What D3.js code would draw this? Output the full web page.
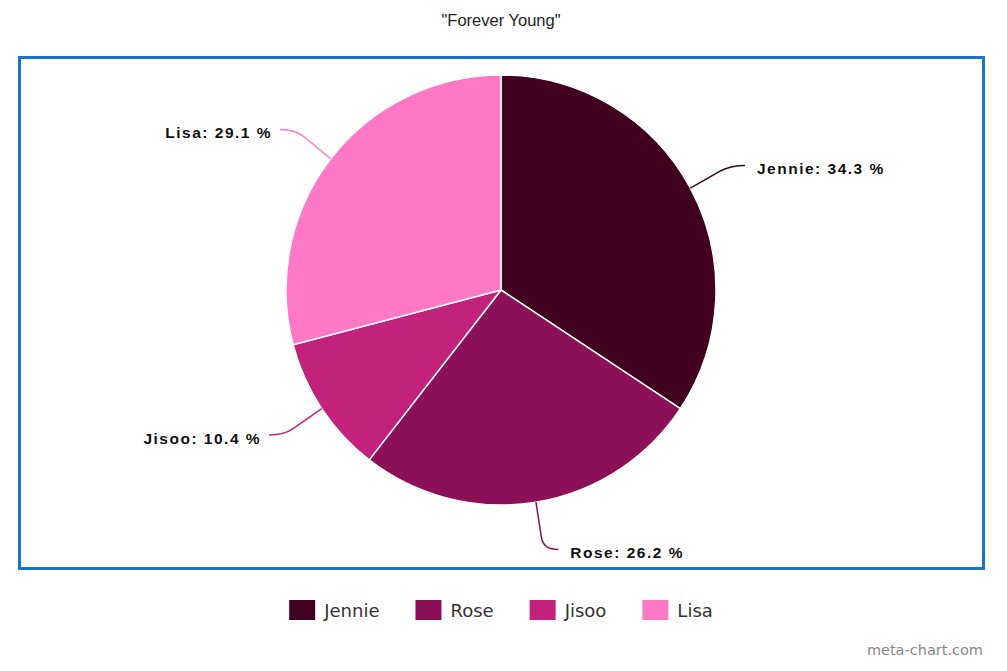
<!DOCTYPE html>
<html><head><meta charset="utf-8">
<script src="https://cdn.jsdelivr.net/npm/d3@7"></script>
<style>html,body{margin:0;padding:0;background:#fff;}svg{display:block;}</style>
</head><body>
<svg id="chart" width="1007" height="671"></svg>
<script>
const title = '"Forever Young"';
const categories = ["Jennie", "Rose", "Jisoo", "Lisa"];
const values = [34.3, 26.2, 10.4, 29.1];
const colors = ["#420020", "#8b1057", "#c2217c", "#ff78c6"];

const W = 1007, H = 671;
const cx = 501, cy = 290, r = 215;
const svg = d3.select("#chart");

svg.append("text").attr("x", 501).attr("y", 26).attr("text-anchor", "middle")
  .attr("font-family", "Liberation Sans, Arial, sans-serif").attr("font-size", 16.5)
  .attr("fill", "#222").text(title);

svg.append("rect").attr("x", 19.5).attr("y", 57.5).attr("width", 964).attr("height", 511)
  .attr("fill", "none").attr("stroke", "#1874c8").attr("stroke-width", 3);

const data = categories.map((c, i) => ({name: c, value: values[i], color: colors[i]}));
const pie = d3.pie().value(d => d.value).sort(null);
const arcs = pie(data);
const arc = d3.arc().innerRadius(0).outerRadius(r);
const g = svg.append("g").attr("transform", `translate(${cx},${cy})`);

g.selectAll("path.slice").data(arcs).enter().append("path")
  .attr("class", "slice").attr("d", arc)
  .attr("fill", d => d.data.color).attr("stroke", "#fff").attr("stroke-width", 1.5)
  .attr("stroke-linejoin", "round");

arcs.forEach(d => {
  const a = (d.startAngle + d.endAngle) / 2;
  const s = Math.sin(a), c = Math.cos(a);
  const sign = s >= 0 ? 1 : -1;
  const p0 = [s * r, -c * r];
  const ey = -c * (r + 48);
  const ex = s * (r + 45) + sign * 15;
  const C = [ex - sign * 15, ey];
  const m = [p0[0] + (C[0] - p0[0]) * 0.75, p0[1] + (C[1] - p0[1]) * 0.75];
  g.append("path")
    .attr("d", `M${p0[0]},${p0[1]}L${m[0]},${m[1]}Q${C[0]},${C[1]} ${ex},${ey}`)
    .attr("fill", "none").attr("stroke", d.data.color).attr("stroke-width", 1.5);
  g.append("text")
    .attr("x", ex + sign * (sign > 0 ? 12 : 8)).attr("y", ey + 3).attr("dy", "0.35em")
    .attr("text-anchor", sign > 0 ? "start" : "end")
    .attr("font-family", "Liberation Sans, Arial, sans-serif").attr("font-weight", "bold")
    .attr("font-size", 15.5).attr("letter-spacing", "1.5px").attr("fill", "#111")
    .text(`${d.data.name}: ${d3.format(".1f")(d.data.value)} %`);
});

// Legend
const lg = svg.append("g");
const items = [];
let x = 0;
data.forEach((d, i) => {
  const it = lg.append("g");
  it.append("rect").attr("x", 0).attr("y", 0).attr("width", 26).attr("height", 20).attr("fill", d.color);
  const t = it.append("text").attr("x", 35).attr("y", 17)
    .attr("font-family", "DejaVu Sans, sans-serif").attr("font-size", 18).attr("fill", "#333").text(d.name);
  const w = 35 + t.node().getComputedTextLength();
  items.push({it, x, w});
  x += w + 36;
});
const total = x - 36;
const lx0 = 501 - total / 2;
items.forEach(o => o.it.attr("transform", `translate(${lx0 + o.x},600)`));

svg.append("text").attr("x", 983).attr("y", 655).attr("text-anchor", "end")
  .attr("font-family", "DejaVu Sans, sans-serif").attr("font-size", 14.5).attr("fill", "#888")
  .text("meta-chart.com");
</script>
</body></html>
